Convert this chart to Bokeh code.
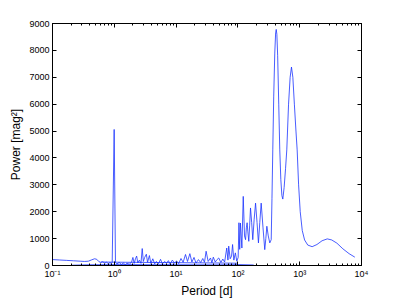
from bokeh.plotting import figure
from bokeh.models import FixedTicker, LogAxis, LinearAxis
from bokeh.embed import file_html
from bokeh.resources import INLINE

# Main periodogram trace (period in days, power in mag^2)
period = [0.10, 0.13, 0.17, 0.22, 0.28, 0.33, 0.38, 0.43, 0.48, 0.52, 0.56, 0.60,
          0.65, 0.70, 0.75, 0.80, 0.85, 0.90, 0.925, 0.995, 1.045, 1.1, 1.2, 1.3,
          1.4, 1.5, 1.6, 1.75, 1.9, 2.0, 2.1, 2.2, 2.3, 2.4, 2.55, 2.7, 2.83, 2.95,
          3.1, 3.3, 3.45, 3.7, 3.9, 4.2, 4.5, 4.8, 5.2, 5.6, 6.0, 6.5, 7.0, 7.5,
          8.0, 8.7, 9.4, 10.2, 11, 12, 13, 14.2, 15.3, 16.7, 18, 19.5, 21, 23, 25,
          27, 28.8, 30.6, 33, 36, 38, 40, 43, 46, 49, 53, 57, 61, 66, 69, 71, 75,
          79, 82, 86, 91, 96, 101, 104, 107, 110, 116, 122, 128, 133, 137, 141,
          145, 150, 155, 160, 167, 174, 183, 193, 204, 215, 226, 238, 255, 272,
          283, 294, 310, 328, 346, 356, 367, 380, 395, 408, 417, 427, 440, 458,
          476, 495, 515, 533, 560, 590, 618, 660, 700, 736, 775, 820, 870, 910,
          960, 1020, 1100, 1200, 1350, 1590, 1900, 2300, 2790, 3300, 4000, 5000,
          6300, 7800]
power = [220, 205, 190, 175, 160, 150, 160, 210, 250, 230, 150, 110,
         140, 90, 120, 70, 110, 80, 130, 5060, 110, 60, 110, 40,
         90, 30, 80, 50, 120, 300, 80, 250, 350, 100, 200, 80, 630, 150,
         300, 420, 120, 370, 80, 250, 60, 150, 70, 230, 60, 150, 90, 180,
         60, 200, 90, 170, 70, 260, 120, 410, 150, 440, 130, 300, 90, 220, 110,
         260, 120, 530, 150, 280, 100, 310, 130, 220, 280, 110, 240, 130, 650, 200, 720, 250,
         350, 780, 200, 470, 160, 300, 1590, 600, 1580, 650, 2570, 1100, 960, 1400, 1590,
         1250, 900, 1500, 2140, 1600, 960, 1700, 2320, 1600, 840, 1600, 2320, 1400, 590,
         1000, 1460, 1100, 840, 960, 2500, 4300, 6300, 7900, 8650, 8780, 8600, 7800, 6000,
         4300, 3200, 2600, 2470, 2900, 3600, 4300, 6000, 7000, 7380, 7000, 6000, 5000, 4300,
         3000, 2000, 1300, 950, 760, 700, 780, 920, 990, 950, 830, 620,
         440, 310]

# Secondary low-level traces visible along the bottom
period_b = [0.6, 0.9, 1.5, 3.0, 6.0, 10, 20, 40, 70, 100]
power_b = [130, 125, 120, 115, 110, 105, 100, 95, 90, 85]
period_c = [0.2, 0.35, 0.6, 1.2, 3.0, 8.0, 20, 50, 100, 180]
power_c = [10, 25, 30, 35, 30, 30, 25, 25, 35, 20]

x_ticks = [0.1, 1, 10, 100, 1000, 10000]
x_tick_labels = ["10\u207b\u00b9", "10\u2070", "10\u00b9", "10\u00b2", "10\u00b3", "10\u2074"]
y_ticks = [0, 1000, 2000, 3000, 4000, 5000, 6000, 7000, 8000, 9000]

FONT = "Liberation Sans"
BLUE = "#1a33ff"

p = figure(width=399, height=300, x_axis_type="log", x_range=(0.1, 1e4), y_range=(0, 9000),
           output_backend="svg", toolbar_location=None,
           min_border_left=52, min_border_right=38, min_border_top=23, min_border_bottom=34)
p.xgrid.visible = False
p.ygrid.visible = False
p.outline_line_color = "black"
p.background_fill_color = "white"
p.border_fill_color = "white"

p.line(period_c, power_c, line_color=BLUE, line_width=0.8)
p.line(period_b, power_b, line_color=BLUE, line_width=0.8)
p.line(period, power, line_color=BLUE, line_width=0.8)

minor = [m * d for d in [0.1, 1, 10, 100, 1000] for m in range(2, 10)]

xa = p.xaxis[0]
xa.ticker = FixedTicker(ticks=x_ticks, minor_ticks=minor)
xa.major_label_overrides = {t: l for t, l in zip(x_ticks, x_tick_labels)}
xa.axis_label = "Period [d]"

ya = p.yaxis[0]
ya.ticker = FixedTicker(ticks=y_ticks)
ya.axis_label = "Power [mag\u00b2]"

top = LogAxis(ticker=FixedTicker(ticks=x_ticks, minor_ticks=minor), major_label_text_alpha=0,
              major_label_text_font_size="1px")
right = LinearAxis(ticker=FixedTicker(ticks=y_ticks), major_label_text_alpha=0,
                   major_label_text_font_size="1px")
p.add_layout(top, "above")
p.add_layout(right, "right")

for ax in [xa, ya, top, right]:
    ax.axis_line_color = "black"
    ax.major_tick_line_color = "black"
    ax.minor_tick_line_color = "black"
    ax.major_tick_in = 4
    ax.major_tick_out = 0
    ax.minor_tick_in = 2
    ax.minor_tick_out = 0
    ax.major_label_standoff = 3
    ax.major_label_text_font = FONT
    ax.axis_label_text_font = FONT
    ax.axis_label_text_font_style = "normal"
    ax.axis_label_text_font_size = "12px"
    ax.axis_label_text_color = "black"
for ax in [xa, ya]:
    ax.major_label_text_font_size = "9px"
    ax.major_label_text_color = "black"
xa.axis_label_standoff = 2
ya.axis_label_standoff = 3
top.major_label_standoff = 0
right.major_label_standoff = 0

open("out.html", "w").write(file_html(p, INLINE))
